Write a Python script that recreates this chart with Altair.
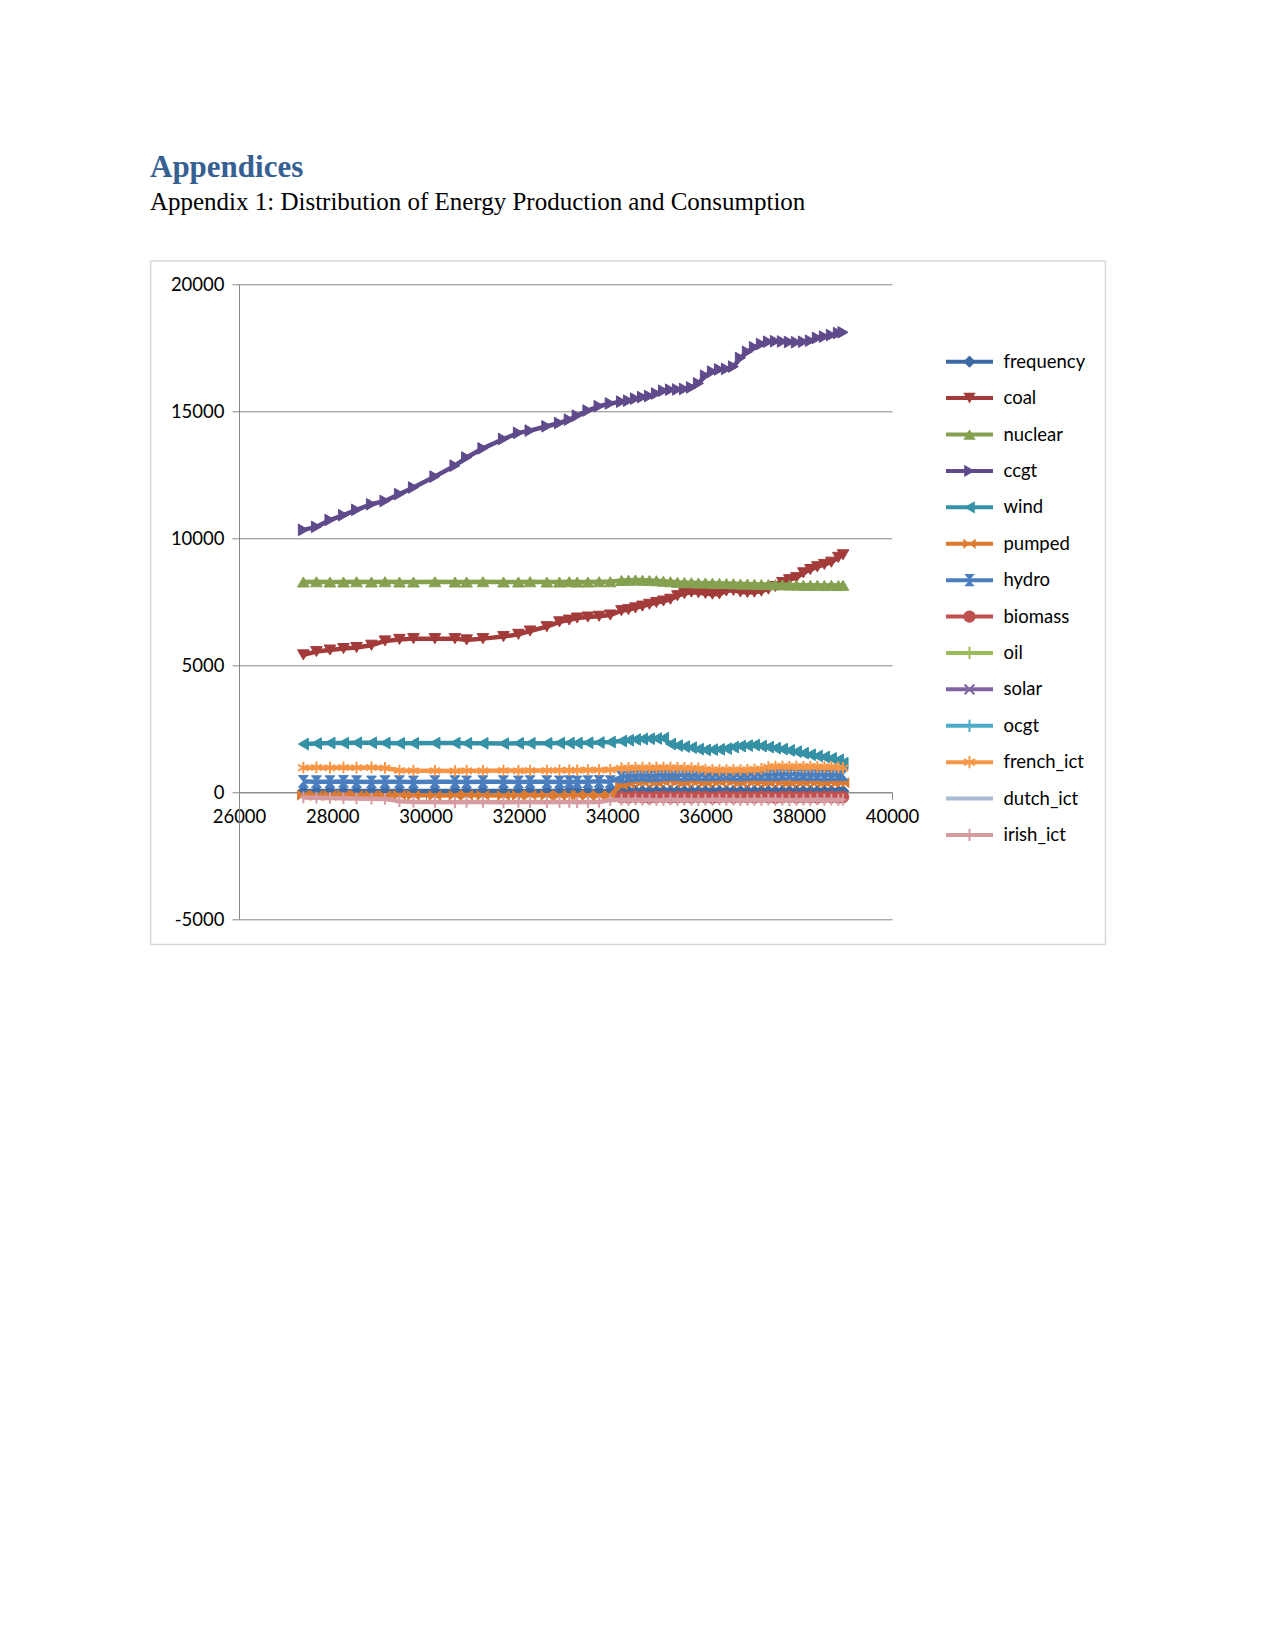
import altair as alt
import pandas as pd

# ---------------- text ----------------
heading_text = ["Appendices"]
subtitle_text = ["Appendix 1: Distribution of Energy Production and Consumption"]

# ---------------- axes ----------------
x_ticks = [26000, 28000, 30000, 32000, 34000, 36000, 38000, 40000]
y_ticks = [-5000, 0, 5000, 10000, 15000, 20000]

# ---------------- data ----------------
x_left = [27380, 27660, 27950, 28240, 28520, 28840, 29130, 29440, 29740, 30200,
          30630, 30880, 31230, 31670, 31990, 32240, 32600, 32870, 33080, 33250,
          33480, 33720, 33960]
x_right = [34200, 34350, 34500, 34650, 34800, 34950, 35100, 35250, 35400, 35550,
           35700, 35850, 36000, 36150, 36300, 36450, 36600, 36750, 36900, 37050,
           37200, 37350, 37500, 37650, 37800, 37950, 38100, 38250, 38400, 38550,
           38700, 38850, 38950]

frequency = [50, 50, 50, 50, 50, 50, 50, 50, 50, 50, 50, 50, 50, 50, 50, 50, 50, 50, 50, 50,
             50, 50, 50,
             50, 50, 50, 50, 50, 50, 50, 50, 50, 50, 50, 50, 50, 50, 50, 50, 50, 50, 50, 50,
             50, 50, 50, 50, 50, 50, 50, 50, 50, 50, 50, 50, 50]
coal = [5410, 5540, 5600, 5660, 5700, 5790, 5960, 6020, 6050, 6050, 6050, 6000, 6050,
        6130, 6220, 6350, 6520, 6710, 6780, 6860, 6900, 6930, 6980,
        7150, 7190, 7260, 7330, 7400, 7470, 7530, 7600, 7740, 7820, 7880, 7860, 7830,
        7800, 7810, 7930, 7950, 7890, 7870, 7880, 7920, 8000, 8100, 8260, 8370, 8450,
        8640, 8770, 8880, 8970, 9060, 9250, 9350]
nuclear = [8280, 8290, 8280, 8280, 8290, 8280, 8290, 8280, 8280, 8290, 8280, 8280, 8290,
           8280, 8280, 8290, 8280, 8280, 8290, 8280, 8280, 8290, 8290,
           8340, 8350, 8360, 8350, 8340, 8330, 8310, 8290, 8270, 8260, 8250, 8240, 8240,
           8230, 8220, 8220, 8210, 8200, 8200, 8190, 8180, 8180, 8170, 8170, 8160, 8160,
           8150, 8150, 8150, 8140, 8150, 8140, 8150]
ccgt = [10330, 10450, 10720, 10910, 11120, 11340, 11470, 11740, 12000, 12430, 12860,
        13180, 13540, 13910, 14150, 14240, 14410, 14540, 14670, 14830, 15030, 15200, 15310,
        15380, 15420, 15500, 15560, 15600, 15700, 15810, 15850, 15860, 15880, 15940, 16100,
        16400, 16560, 16650, 16670, 16760, 17100, 17340, 17520, 17650, 17740, 17760, 17750,
        17730, 17720, 17740, 17780, 17890, 17940, 18000, 18080, 18110]
wind = [1900, 1920, 1940, 1940, 1950, 1950, 1940, 1930, 1930, 1940, 1940, 1930, 1930,
        1920, 1930, 1930, 1930, 1940, 1940, 1940, 1950, 1960, 1980,
        2020, 2050, 2080, 2100, 2110, 2120, 2130, 1900, 1840, 1800, 1760, 1700, 1670,
        1680, 1690, 1720, 1780, 1820, 1840, 1860, 1820, 1780, 1740, 1700, 1650, 1600,
        1540, 1480, 1430, 1390, 1340, 1280, 1150]
pumped = [-110, -130, -120, -110, -120, -130, -120, -110, -120, -130, -120, -110, -120,
          -130, -120, -110, -120, -130, -120, -110, -120, -130, -120,
          300, 350, 420, 400, 450, 380, 420, 470, 400, 380, 450, 420, 380, 440, 400, 460,
          420, 380, 450, 400, 420, 380, 440, 400, 380, 420, 390, 430, 400, 380, 420, 400, 380]
hydro = [430, 420, 420, 430, 420, 410, 420, 420, 410, 420, 420, 410, 420, 420, 410, 420,
         420, 410, 420, 410, 420, 430, 420,
         600, 640, 660, 670, 650, 660, 680, 700, 690, 680, 700, 690, 680, 690, 700, 710,
         690, 680, 700, 710, 700, 690, 700, 710, 720, 700, 710, 690, 700, 680, 690, 700, 690]
biomass = [None, None, None, None, None, None, None, None, None, None, None, None, None,
           None, None, None, None, None, None, None, None, None, None,
           -190, -200, -180, -190, -210, -190, -180, -200, -190, -190, -200, -180, -190,
           -210, -190, -180, -200, -190, -190, -200, -180, -190, -210, -190, -180, -200,
           -190, -190, -200, -180, -190, -200, -190]
oil = []
solar = []
ocgt = []
french_ict = [970, 980, 970, 980, 970, 980, 960, 860, 850, 850, 840, 850, 850, 860, 850,
              860, 860, 870, 870, 870, 880, 880, 890,
              950, 960, 960, 970, 960, 970, 970, 970, 960, 960, 950, 940, 900, 890, 880,
              880, 890, 880, 890, 900, 920, 990, 1010, 1010, 1000, 1010, 1000, 1010, 1000,
              990, 1000, 980, 960]
dutch_ict = []
irish_ict = [-200, -210, -220, -230, -240, -250, -260, -350, -380, -380, -390, -380, -380,
             -390, -380, -380, -390, -380, -380, -390, -380, -380, -300,
             -290, -300, -280, -300, -290, -310, -300, -280, -300, -290, -300, -310, -290,
             -300, -280, -300, -290, -310, -300, -290, -300, -280, -300, -290, -310, -300,
             -290, -300, -280, -300, -290, -300, -290]

series_names = ["frequency", "coal", "nuclear", "ccgt", "wind", "pumped", "hydro",
                "biomass", "oil", "solar", "ocgt", "french_ict", "dutch_ict", "irish_ict"]
series_values = [frequency, coal, nuclear, ccgt, wind, pumped, hydro,
                 biomass, oil, solar, ocgt, french_ict, dutch_ict, irish_ict]
series_colors = ["#3D6AA3", "#A23B3A", "#85A150", "#5F4B8B", "#3591A6", "#DB7A30",
                 "#4A7EBF", "#C0504D", "#9BBB59", "#8064A2", "#4BACC6", "#F79646",
                 "#A7B9D3", "#D69BA1"]
# marker: (shape, filled)
series_markers = [
    ("diamond", True),
    ("triangle-down", True),
    ("triangle-up", True),
    ("triangle-right", True),
    ("triangle-left", True),
    ("M-1,-0.85L0,0L-1,0.85Z M1,-0.85L0,0L1,0.85Z", True),
    ("M-0.85,-1L0.85,-1L0,0Z M-0.85,1L0.85,1L0,0Z", True),
    ("circle", True),
    ("M0,-1L0,1M-0.45,0L0.45,0", False),
    ("M-0.8,-0.8L0.8,0.8M-0.8,0.8L0.8,-0.8", False),
    ("M0,-1L0,1M-1,0L1,0", False),
    ("M0,-1L0,1M-0.9,-0.5L0.9,0.5M-0.9,0.5L0.9,-0.5", False),
    (None, False),
    ("M0,-1L0,1M-0.6,0L0.6,0", False),
]

x_vals = x_left + x_right
rows = []
for name, vals in zip(series_names, series_values):
    for i, v in enumerate(vals):
        if v is None:
            continue
        rows.append({"series": name, "idx": i, "xv": x_vals[i], "yv": v})
df = pd.DataFrame(rows)

# ---------------- plot ----------------
W, H = 653, 635
FONT = "Lato"
GRAY = "#868686"

xs = alt.Scale(domain=[26000, 40000], nice=False, zero=False)
ys = alt.Scale(domain=[-5000, 20000], nice=False, zero=False)
zero_px = H * 20000 / 25000

x_axis = alt.Axis(values=x_ticks, title=None, grid=False, offset=-(H - zero_px),
                  domainColor=GRAY, tickColor=GRAY, tickSize=7, labelPadding=8,
                  labelFont=FONT, labelFontSize=18.5, labelColor="black",
                  labelFlush=False, labelOverlap=False, labelExpr="'' + datum.value")
y_axis = alt.Axis(values=y_ticks, title=None, grid=True, gridColor=GRAY, gridWidth=1,
                  domainColor=GRAY, tickColor=GRAY, tickSize=7, labelPadding=8,
                  labelFont=FONT, labelFontSize=18.5, labelColor="black",
                  labelOverlap=False, labelExpr="'' + datum.value")

enc_x = alt.X("xv:Q", scale=xs, axis=x_axis)
enc_y = alt.Y("yv:Q", scale=ys, axis=y_axis)

plot_layers = []
for name, col, (shape, filled), vals in zip(series_names, series_colors,
                                             series_markers, series_values):
    if len(vals) == 0:
        continue
    base = alt.Chart(df).transform_filter(alt.datum.series == name)
    line = base.mark_line(color=col, strokeWidth=4.5).encode(
        x=enc_x, y=enc_y, order="idx:Q")
    plot_layers.append(line)
    if shape is not None:
        if filled:
            pts = base.mark_point(shape=shape, filled=True, color=col, opacity=1,
                                  size=135, stroke=col, strokeWidth=1)
        else:
            pts = base.mark_point(shape=shape, filled=False, color=col, opacity=1,
                                  size=135, strokeWidth=2)
        plot_layers.append(pts.encode(x=enc_x, y=enc_y))

plot_group = alt.layer(*plot_layers)

# ---------------- legend ----------------
legend_df = pd.DataFrame({
    "series": series_names,
    "filled": [m[1] for m in series_markers],
    "has_marker": [m[0] is not None for m in series_markers],
})
ly = alt.Y("series:N", sort=series_names, axis=None,
           scale=alt.Scale(type="point", range=[77.4, 550.7], padding=0))
lcolor = alt.Color("series:N", scale=alt.Scale(domain=series_names, range=series_colors),
                   legend=None)
lshape = alt.Shape("series:N",
                   scale=alt.Scale(domain=series_names,
                                   range=[m[0] if m[0] is not None else "circle"
                                          for m in series_markers]),
                   legend=None)
lbase = alt.Chart(legend_df)
leg_rule = lbase.mark_rule(strokeWidth=4).encode(
    x=alt.value(707), x2=alt.value(754), y=ly, color=lcolor)
leg_fill = lbase.transform_filter("datum.has_marker && datum.filled").mark_point(
    filled=True, opacity=1, size=150).encode(x=alt.value(730.5), y=ly, color=lcolor,
                                             shape=lshape)
leg_stroke = lbase.transform_filter("datum.has_marker && !datum.filled").mark_point(
    filled=False, opacity=1, size=150, strokeWidth=2).encode(
    x=alt.value(730.5), y=ly, color=lcolor, shape=lshape)
leg_text = lbase.mark_text(align="left", baseline="middle", font=FONT, fontSize=18.5,
                           color="black").encode(x=alt.value(764.5), y=ly, text="series:N")
legend_group = alt.layer(leg_rule, leg_fill, leg_stroke, leg_text)

# ---------------- page text and frame ----------------
heading = alt.Chart(pd.DataFrame({"t": heading_text})).mark_text(
    align="left", baseline="alphabetic", font="Liberation Serif", fontWeight="bold",
    fontSize=31, color="#366092").encode(x=alt.value(-89), y=alt.value(-107.5), text="t:N")
subtitle = alt.Chart(pd.DataFrame({"t": subtitle_text})).mark_text(
    align="left", baseline="alphabetic", font="Liberation Serif", fontSize=25,
    color="black").encode(x=alt.value(-89), y=alt.value(-74), text="t:N")
frame = alt.Chart(pd.DataFrame({"f": [0]})).mark_rect(
    fillOpacity=0, stroke="#D9D9D9", strokeWidth=1.5).encode(
    x=alt.value(-88.4), x2=alt.value(866.5), y=alt.value(-23.2), y2=alt.value(660.2))

chart = alt.layer(frame, plot_group, legend_group, heading, subtitle).resolve_scale(
    y="independent"
).properties(
    width=W, height=H,
    autosize=alt.AutoSizeParams(type="none"),
    padding={"left": 231, "top": 276.3, "right": 370, "bottom": 60},
    background="white",
).configure_view(strokeWidth=0)

chart.save("out.html", embed_options={"renderer": "svg", "actions": False})
